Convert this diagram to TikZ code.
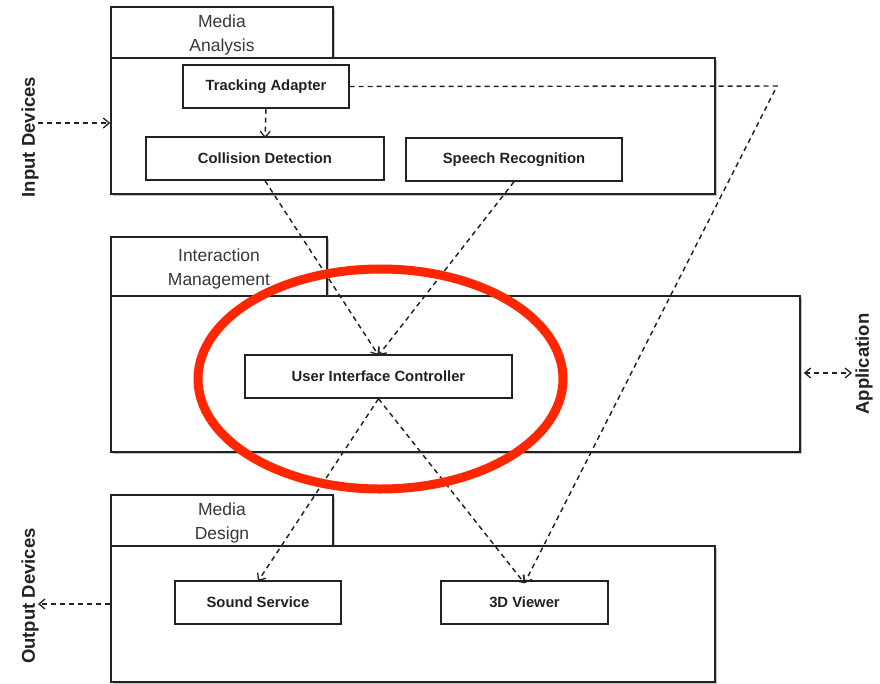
\documentclass[tikz,border=0pt]{standalone}
\usepackage{fontspec}
\setmainfont{Liberation Sans}
\usetikzlibrary{arrows.meta,shadows}
\definecolor{ink}{HTML}{222222}
\definecolor{marker}{RGB}{255,38,0}
\begin{document}
\begin{tikzpicture}[x=1pt,y=-1pt,
  pkg/.style={draw=ink, fill=white, line width=1.5pt, inner sep=0pt,
    drop shadow={shadow xshift=2pt, shadow yshift=-2pt, fill=black!40, opacity=0.6}},
  tabtext/.style={font=\fontsize{17.5}{24}\selectfont, text=ink!90, align=center},
  comp/.style={draw=ink, fill=white, line width=1.4pt, inner sep=0pt,
    font=\bfseries\fontsize{14.8}{18}\selectfont, text=ink},
  side/.style={font=\bfseries\fontsize{18.5}{22}\selectfont, text=ink, rotate=90},
  flow/.style={draw=ink, line width=1.45pt, dash pattern=on 5pt off 4pt,
    -{Straight Barb[length=6pt,width=10pt,line width=1.3pt]}},
  both/.style={flow, {Straight Barb[length=6pt,width=10pt,line width=1.3pt]}-{Straight Barb[length=6pt,width=10pt,line width=1.3pt]}},
  ring/.style={draw=marker, line width=9pt}]
\useasboundingbox (0,0) rectangle (880,683);

% Media Analysis package
\node[pkg, minimum width=222pt, minimum height=51pt] (matab) at (222,32.5) {};
\node[tabtext] at ([yshift=-2.5pt]matab.center) {Media\\Analysis};
\node[pkg, minimum width=604pt, minimum height=136pt] (ma) at (413,126) {};
\node[comp, minimum width=166pt, minimum height=43pt] (ta) at (266,86.5) {Tracking Adapter};
\node[comp, minimum width=238pt, minimum height=43pt] (cd) at (265,158.5) {Collision Detection};
\node[comp, minimum width=216pt, minimum height=43pt] (sr) at (514,159.5) {Speech Recognition};

% Interaction Management package
\node[pkg, minimum width=216pt, minimum height=59pt] (imtab) at (219,266.5) {};
\node[tabtext] at ([yshift=-2.5pt]imtab.center) {Interaction\\Management};
\node[pkg, minimum width=689pt, minimum height=156pt] (im) at (455.5,374) {};
\node[comp, minimum width=267pt, minimum height=43pt] (uic) at (378.5,376.5) {User Interface Controller};

% Media Design package
\node[pkg, minimum width=222pt, minimum height=51pt] (mdtab) at (222,520.5) {};
\node[tabtext] at ([yshift=-2.5pt]mdtab.center) {Media\\Design};
\node[pkg, minimum width=604pt, minimum height=136pt] (md) at (413,614) {};
\node[comp, minimum width=166pt, minimum height=43pt] (ss) at (258,602.5) {Sound Service};
\node[comp, minimum width=167pt, minimum height=43pt] (dv) at (524.5,602.5) {3D Viewer};

% outside labels
\node[side] (indev) at (30,137) {Input Devices};
\node[side] (outdev) at (30,596) {Output Devices};
\node[side] (app) at (864,364) {Application};
\coordinate (inA) at (38,123);
\coordinate (outA) at (38,604);
\coordinate (appA) at (852,373);
\coordinate (bend) at (777,86);

% connectors
\draw[flow] (inA) -- (ma.west |- inA);
\draw[flow] (md.west |- outA) -- (outA);
\draw[both] (im.east |- appA) ++(3,0) coordinate (appB) (appB) -- (appA);
\draw[flow] (ta.south) -- ([yshift=-2pt]cd.north);
\draw[flow] (cd.south) -- ([yshift=-1pt]uic.north);
\draw[flow] (sr.south) -- ([yshift=-1pt]uic.north);
\draw[flow] (uic.south) -- ([yshift=-1pt]ss.north);
\draw[flow] (uic.south) -- ([yshift=-3pt]dv.north);
\draw[flow] (ta.east) -- (bend) -- ([yshift=-3pt]dv.north);

% highlight ring
\draw[ring] (380.5,379) ellipse [x radius=182.5, y radius=110];
\end{tikzpicture}
\end{document}
